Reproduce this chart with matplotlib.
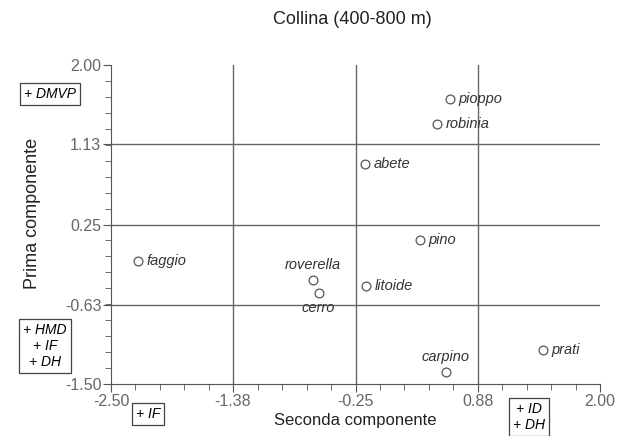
import matplotlib
matplotlib.use("Agg")
import matplotlib.pyplot as plt
import numpy as np

plt.rcParams['font.family'] = ['Liberation Sans', 'DejaVu Sans']

names = ["pioppo", "robinia", "abete", "pino", "faggio", "roverella", "cerro", "litoide", "carpino", "prati"]
x_vals = [0.62, 0.50, -0.16, 0.34, -2.25, -0.64, -0.59, -0.15, 0.58, 1.48]
y_vals = [1.63, 1.35, 0.91, 0.08, -0.15, -0.36, -0.50, -0.43, -1.37, -1.13]
label_pos = ["right", "right", "right", "right", "right", "above", "below", "right", "above", "right"]
x_ticks = [-2.50, -1.38, -0.25, 0.88, 2.00]
y_ticks = [-1.50, -0.63, 0.25, 1.13, 2.00]

fig = plt.figure(figsize=(6.18, 4.36), dpi=100)
ax = fig.add_axes([111/618, 1-384/436, 489/618, 319/436])
ax.set_xlim(-2.5, 2.0)
ax.set_ylim(-1.5, 2.0)

for v in x_ticks[1:-1]:
    ax.axvline(v, color='#666666', lw=1.0, zorder=1)
for v in y_ticks[1:-1]:
    ax.axhline(v, color='#666666', lw=1.0, zorder=1)

ax.scatter(x_vals, y_vals, s=40, facecolors='white', edgecolors='#555555', linewidths=0.9, zorder=3)
for n, x, y, p in zip(names, x_vals, y_vals, label_pos):
    kw = dict(textcoords='offset points', fontsize=10.5, style='italic', color='#333333')
    if p == "right":
        ax.annotate(n, (x, y), xytext=(6, 0), ha='left', va='center', **kw)
    elif p == "above":
        ax.annotate(n, (x, y), xytext=(0, 6), ha='center', va='bottom', **kw)
    else:
        ax.annotate(n, (x, y), xytext=(0, -6), ha='center', va='top', **kw)

for s in ['top', 'right']:
    ax.spines[s].set_visible(False)
for s in ['left', 'bottom']:
    ax.spines[s].set_color('#555555')

ax.set_xticks(x_ticks)
ax.set_xticklabels([f"{v:.2f}" for v in x_ticks])
ax.set_yticks(y_ticks)
ax.set_yticklabels([f"{v:.2f}" for v in y_ticks])
ax.set_xticks(np.linspace(-2.5, 2.0, 21), minor=True)
ax.set_yticks(np.linspace(-1.5, 2.0, 21), minor=True)
ax.tick_params(which='both', direction='out', colors='#555555', labelsize=11.5, labelcolor='#666666', pad=1)
ax.tick_params(which='major', length=6)
ax.tick_params(which='minor', length=4)

ax.set_xlabel("Seconda componente", fontsize=12, color='#222222', labelpad=3)
fig.text(33/618, 1-213/436, "Prima componente", rotation=90, ha='center', va='center', fontsize=13, color='#222222')
fig.text(352/618, 1-20/436, "Collina (400-800 m)", ha='center', va='center', fontsize=13, color='#222222')

box = dict(boxstyle='square,pad=0.3', fc='white', ec='#444444', lw=0.9)
fig.text(50/618, 1-94/436, "+ DMVP", ha='center', va='center', fontsize=10, style='italic', bbox=box)
fig.text(45/618, 1-346/436, "+ HMD\n+ IF\n+ DH", ha='center', va='center', fontsize=10, style='italic',
         bbox=box, multialignment='center')
fig.text(148/618, 1-414/436, "+ IF", ha='center', va='center', fontsize=10, style='italic', bbox=box)
fig.text(529/618, 1-417/436, "+ ID\n+ DH", ha='center', va='center', fontsize=10, style='italic',
         bbox=box, multialignment='center')

fig.savefig("out.png", dpi=100)
